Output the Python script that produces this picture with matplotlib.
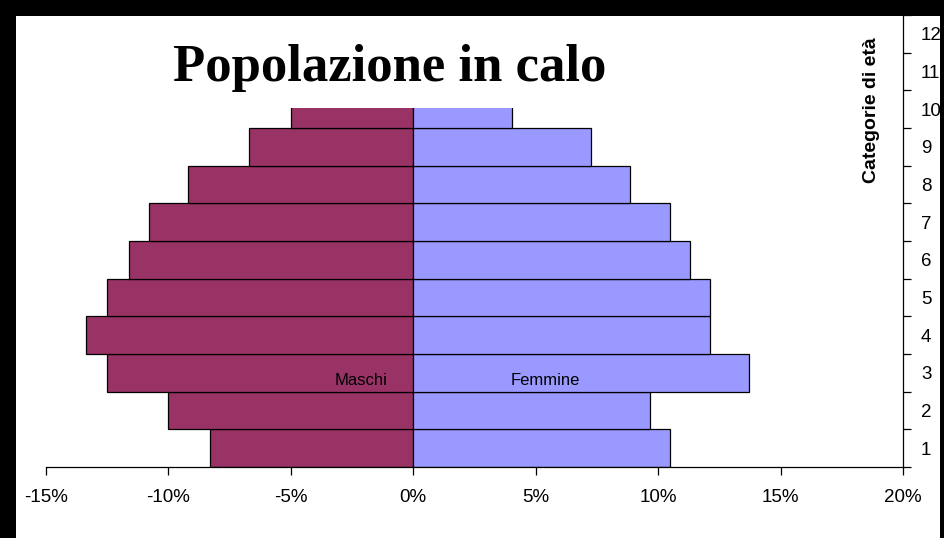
import numpy as np
import matplotlib.pyplot as plt
from matplotlib.patches import Rectangle
from matplotlib.ticker import FuncFormatter

# Age categories (1 = youngest) and share of population per sex, in %
categorie = [1, 2, 3, 4, 5, 6, 7, 8, 9, 10]
maschi = [8.3, 10.0, 12.5, 13.35, 12.5, 11.6, 10.8, 9.2, 6.7, 5.0]
femmine = [10.5, 9.65, 13.7, 12.1, 12.1, 11.3, 10.5, 8.85, 7.25, 4.05]
y_ticks = list(range(1, 13))
x_ticks = [-15, -10, -5, 0, 5, 10, 15, 20]

W, H = 944, 538
fig = plt.figure(figsize=(W / 100, H / 100), dpi=100, facecolor='black')

# white chart area inside the black frame
fig.patches.append(Rectangle((16 / W, 0), (940 - 16) / W, (H - 16) / H,
                             transform=fig.transFigure, facecolor='white',
                             edgecolor='none', zorder=-1))

ax = fig.add_axes([46 / W, (H - 467) / H, (903 - 46) / W, (467 - 15) / H])
ax.set_facecolor('white')
ax.patch.set_alpha(0)

y = np.array(categorie)
ax.barh(y, [-v for v in maschi], height=1.0, color='#993366',
        edgecolor='black', linewidth=0.9)
ax.barh(y, femmine, height=1.0, color='#9999FF',
        edgecolor='black', linewidth=0.9)

ax.set_xlim(-15, 20)
ax.set_ylim(0.5, 12.5)

# x axis: ticks only, percent labels
ax.set_xticks(x_ticks)
ax.xaxis.set_major_formatter(FuncFormatter(lambda v, p: f'{v:.0f}%'))
ax.tick_params(axis='x', direction='out', length=6, width=0.9, pad=10,
               labelsize=13.5)

# y axis on the right, ticks between categories, labels centred
ax.yaxis.tick_right()
ax.set_yticks(np.arange(0.5, 12.6, 1))
ax.set_yticklabels([])
ax.set_yticks(y_ticks, minor=True)
ax.set_yticklabels([str(t) for t in y_ticks], minor=True)
ax.tick_params(axis='y', which='major', direction='out', length=6, width=0.9)
ax.tick_params(axis='y', which='minor', length=0, pad=13, labelsize=13.5)

for s in ['top', 'left']:
    ax.spines[s].set_visible(False)
ax.spines['bottom'].set_linewidth(0.9)
ax.spines['right'].set_linewidth(0.9)

for lab in ax.get_xticklabels() + ax.get_yticklabels(minor=True):
    lab.set_family('Liberation Sans')

ax.text(-2.15, 2.8, 'Maschi', ha='center', va='center', fontsize=12,
        family='Liberation Sans')
ax.text(5.4, 2.8, 'Femmine', ha='center', va='center', fontsize=12,
        family='Liberation Sans')

# white title box over the top of the plot
fig.patches.append(Rectangle((17 / W, (H - 108) / H), (900 - 17) / W, (108 - 16) / H,
                             transform=fig.transFigure, facecolor='white',
                             edgecolor='none', zorder=1))

fig.text(390 / W, (H - 68) / H, 'Popolazione in calo', ha='center', va='center',
         fontsize=38, fontweight='bold', family='Liberation Serif', zorder=3)
fig.text(872 / W, (H - 110) / H, 'Categorie di età', rotation=90, ha='center',
         va='center', fontsize=14, fontweight='bold', family='Liberation Sans',
         zorder=3)

fig.savefig('out.png', dpi=100, facecolor=fig.get_facecolor())
